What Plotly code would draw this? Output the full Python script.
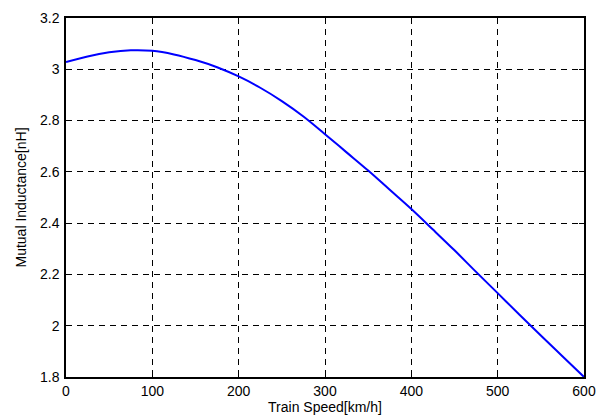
import plotly.graph_objects as go

speed = [0, 25, 50, 75, 100, 125, 150, 175, 200, 225, 250, 275, 300,
         325, 350, 375, 400, 425, 450, 475, 500, 525, 550, 575, 600]
inductance = [3.028, 3.050, 3.066, 3.074, 3.072, 3.058, 3.036, 3.008, 2.972,
              2.928, 2.876, 2.816, 2.747, 2.676, 2.605, 2.530, 2.455, 2.375,
              2.294, 2.210, 2.127, 2.044, 1.962, 1.881, 1.800]

x_ticks = [0, 100, 200, 300, 400, 500, 600]
y_ticks = [1.8, 2.0, 2.2, 2.4, 2.6, 2.8, 3.0, 3.2]
y_tick_labels = ["1.8", "2", "2.2", "2.4", "2.6", "2.8", "3", "3.2"]

fig = go.Figure()
fig.add_trace(go.Scatter(x=speed, y=inductance, mode="lines",
                         line=dict(color="#0000FF", width=2, shape="spline"),
                         showlegend=False))

font = dict(family="Liberation Sans, Arial, Helvetica, sans-serif", size=14, color="black")
axis_common = dict(showline=True, linecolor="black", linewidth=1.5, mirror="ticks",
                   ticks="inside", ticklen=5, tickcolor="black",
                   showgrid=True, gridcolor="black", gridwidth=1, griddash="6px,5px",
                   zeroline=False, tickfont=font, automargin=False)

fig.update_xaxes(range=[0, 600], tickvals=x_ticks,
                 title=dict(text="Train Speed[km/h]", font=font, standoff=3),
                 **axis_common)
fig.update_yaxes(range=[1.8, 3.2], tickvals=y_ticks, ticktext=y_tick_labels,
                 ticklabelstandoff=2,
                 title=dict(text="Mutual Inductance[nH]", font=font, standoff=10),
                 **axis_common)

# page body adds an 8px offset, so the figure is sized to place the plot area
# at the same page position as in the reference
fig.update_layout(width=596, height=407, margin=dict(l=58, r=20, t=10, b=38),
                  plot_bgcolor="white", paper_bgcolor="white", font=font)

fig.write_html("out.html")
